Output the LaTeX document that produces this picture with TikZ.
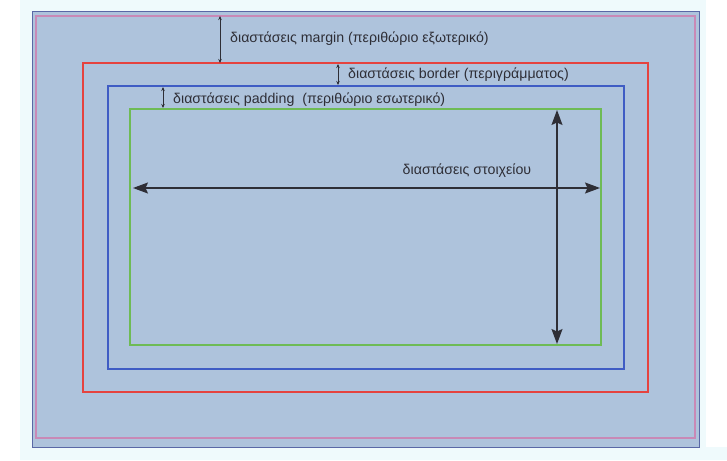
\documentclass[tikz,border=0pt]{standalone}
\usepackage{fontspec}
\setmainfont{Liberation Sans}
\usetikzlibrary{arrows.meta}
\usetikzlibrary{calc}

\definecolor{pagebg}{HTML}{EFFAFC}
\definecolor{boxfill}{HTML}{AEC3DC}
\definecolor{outerline}{HTML}{5A68A6}
\definecolor{marginline}{HTML}{C889B6}
\definecolor{borderline}{HTML}{E5433F}
\definecolor{paddingline}{HTML}{3F5CC4}
\definecolor{contentline}{HTML}{6EBB55}
\definecolor{dimline}{HTML}{2E2E36}

\begin{document}
\begin{tikzpicture}[x=1pt,y=-1pt]
\tikzset{
    box/.style={
        draw=#1,
        rectangle,
        inner sep=0pt,
        outer sep=0pt,
        line width=1.3pt
    },
    box/.default=black,
    dimsmall/.style={ % requires library arrows.meta
        draw=dimline,
        line width=0.9pt,
        {Stealth[length=4pt,width=3.5pt]}-{Stealth[length=4pt,width=3.5pt]}
    },
    dimlarge/.style={ % requires library arrows.meta
        draw=dimline,
        line width=1.4pt,
        {Stealth[length=15pt,width=11pt,inset=2.5pt]}-{Stealth[length=15pt,width=11pt,inset=2.5pt]}
    },
    dimtext/.style={
        anchor=west,
        inner sep=0pt,
        text=dimline,
        font=\fontsize{14.2}{16}\selectfont
    },
}
\useasboundingbox (0,0) rectangle (727,460);
\fill[pagebg] (20,0) rectangle (706,460);
\fill[pagebg] (706,447) rectangle (727,460);

\node[box=outerline, line width=1pt, fill=boxfill, minimum width=667, minimum height=435] (outerbox) at (365.5,229.5) {};
\node[box=marginline, minimum width=659, minimum height=422] (marginedge) at (365.5,227) {};
\node[box=borderline, line width=1.6pt, minimum width=565, minimum height=329] (borderbox) at (365.5,227.5) {};
\node[box=paddingline, minimum width=516, minimum height=283] (paddingbox) at (366,227.5) {};
\node[box=contentline, minimum width=471, minimum height=236] (contentbox) at (365.5,227) {};

\draw[dimsmall] ($(marginedge.north west)+(184,0)$) -- ($(borderbox.north west)+(137,0)$);
\node[dimtext] (margintext) at (230,39) {διαστάσεις margin (περιθώριο εξωτερικό)};

\draw[dimsmall] ($(borderbox.north west)+(255,1)$) -- ($(paddingbox.north west)+(230,-1)$);
\node[dimtext] (bordertext) at (348,75) {διαστάσεις border (περιγράμματος)};

\draw[dimsmall] ($(paddingbox.north west)+(55,1)$) -- ($(contentbox.north west)+(33,-1)$);
\node[dimtext] (paddingtext) at (173,100) {διαστάσεις padding\ \ (περιθώριο εσωτερικό)};

\draw[dimlarge] ($(contentbox.north west)+(3,79)$) -- ($(contentbox.north east)+(-1,79)$);
\node[dimtext, anchor=center] (contenttext) at (467,171) {διαστάσεις στοιχείου};

\draw[dimlarge] ($(contentbox.north west)+(427,1)$) -- ($(contentbox.south west)+(427,-1)$);
\end{tikzpicture}
\end{document}
